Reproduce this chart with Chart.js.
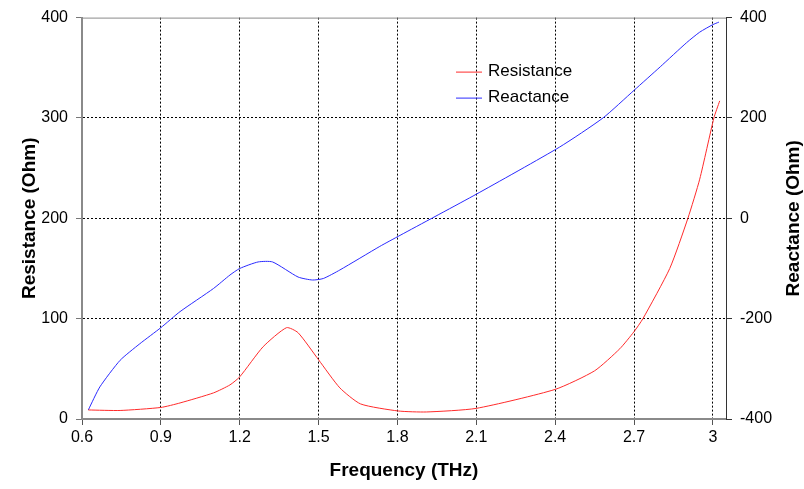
<!DOCTYPE html>
<html>
<head>
<meta charset="utf-8">
<script src="https://cdn.jsdelivr.net/npm/chart.js@4/dist/chart.umd.min.js"></script>
<style>
  html, body { margin: 0; padding: 0; background: #fff; }
  #wrap { width: 804px; height: 489px; }
</style>
</head>
<body>
<div id="wrap"><canvas id="myChart"></canvas></div>
<script>
// данные
const resFreq = [0.624, 0.745, 0.9, 0.973, 1.1, 1.163, 1.2, 1.289, 1.378, 1.422, 1.5, 1.581, 1.66, 1.803, 1.91, 2.1, 2.4, 2.55, 2.646, 2.7, 2.734, 2.836, 2.905, 2.95, 3.004, 3.026];
const resistance = [9, 8.5, 11.5, 16, 26, 34, 42, 72, 91, 86, 59, 31, 15, 8, 7, 10.6, 29.5, 48, 70, 87, 100, 150, 200, 239, 300, 317];

const reaFreq = [0.624, 0.668, 0.745, 0.82, 0.9, 0.973, 1.1, 1.163, 1.2, 1.27, 1.325, 1.422, 1.477, 1.518, 1.581, 1.733, 1.81, 2.1, 2.417, 2.582, 2.7, 2.8, 2.9, 2.95, 3.0, 3.023];
const reactance = [-382, -336, -283, -250, -218, -186, -140, -113, -100, -87, -87, -117, -123, -120, -103, -56, -34, 48, 142, 200, 255, 302, 350, 371, 386, 391];

const freqTicks = [0.6, 0.9, 1.2, 1.5, 1.8, 2.1, 2.4, 2.7, 3.0];
const resTicks = [0, 100, 200, 300, 400];
const reaTicks = [-400, -200, 0, 200, 400];

const FONT = 'Liberation Sans, Arial, sans-serif';
const rightTitle = 'Reactance (Ohm)';

// легенда внутри области графика, верхняя рамка и правый заголовок
const frameLegend = {
  id: 'frameLegend',
  afterDatasetsDraw(chart) {
    const c = chart.ctx;
    const a = chart.chartArea;
    c.save();
    c.strokeStyle = '#8a8a8a';
    c.lineWidth = 1;
    c.beginPath();
    c.moveTo(a.left, a.top + 0.5);
    c.lineTo(a.right, a.top + 0.5);
    c.stroke();

    c.font = '17px ' + FONT;
    c.textBaseline = 'middle';
    c.fillStyle = '#000';
    chart.data.datasets.forEach((ds, i) => {
      const y = a.top + 54 + i * 26;
      const x = a.left + 374;
      c.strokeStyle = ds.borderColor;
      c.beginPath();
      c.moveTo(x, y + 0.5);
      c.lineTo(x + 26, y + 0.5);
      c.stroke();
      c.fillText(ds.label, x + 32, y);
    });

    // заголовок правой оси читается снизу вверх, как у левой
    c.translate(chart.width - 10, (a.top + a.bottom) / 2);
    c.rotate(-Math.PI / 2);
    c.font = 'bold 19px ' + FONT;
    c.textAlign = 'center';
    c.fillText(rightTitle, 0, 0);
    c.restore();
  }
};

const ctx = document.getElementById('myChart').getContext('2d');
const myChart = new Chart(ctx, {
  type: 'line',
  data: {
    datasets: [{
      label: 'Resistance',
      data: resFreq.map((f, i) => ({x: f, y: resistance[i]})),
      borderColor: '#ff2a2a',
      borderWidth: 1,
      pointRadius: 0,
      tension: 0.2,
      yAxisID: 'y'
    }, {
      label: 'Reactance',
      data: reaFreq.map((f, i) => ({x: f, y: reactance[i]})),
      borderColor: '#2a2aff',
      borderWidth: 1,
      pointRadius: 0,
      tension: 0.2,
      yAxisID: 'y1'
    }]
  },
  options: {
    responsive: true,
    maintainAspectRatio: false,
    animation: false,
    layout: { padding: { top: 17, left: 0, right: 0, bottom: 0 } },
    plugins: { legend: { display: false }, tooltip: { enabled: false } },
    scales: {
      x: {
        type: 'linear',
        min: 0.6,
        max: 3.05,
        afterBuildTicks: s => { s.ticks = freqTicks.map(v => ({value: v})); },
        afterFit: s => { s.height = 70; },
        ticks: {
          color: '#000',
          font: { size: 16, family: FONT },
          padding: 3,
          maxRotation: 0,
          callback: v => String(Math.round(v * 10) / 10)
        },
        grid: {
          color: c => (c.index === 0 ? 'rgba(0,0,0,0)' : '#000'),
          tickColor: '#555',
          tickLength: 6,
          lineWidth: 1
        },
        border: { color: '#8a8a8a', width: 2, dash: [2, 2] },
        title: {
          display: true,
          text: 'Frequency (THz)',
          color: '#000',
          font: { size: 19, weight: 'bold', family: FONT, lineHeight: 1 },
          padding: { top: 0, bottom: 9 }
        }
      },
      y: {
        position: 'left',
        min: 0,
        max: 400,
        afterBuildTicks: s => { s.ticks = resTicks.map(v => ({value: v})); },
        afterFit: s => { s.width = 82; },
        ticks: {
          color: '#000',
          font: { size: 16, family: FONT },
          padding: 8
        },
        grid: {
          color: c => (c.tick.value === 0 || c.tick.value === 400 ? 'rgba(0,0,0,0)' : '#000'),
          tickColor: '#777',
          tickLength: 6,
          lineWidth: 1
        },
        border: { color: '#8a8a8a', width: 2, dash: [2, 2] },
        title: {
          display: true,
          text: 'Resistance (Ohm)',
          color: '#000',
          font: { size: 19, weight: 'bold', family: FONT, lineHeight: 1 },
          padding: { top: 20, bottom: 0 }
        }
      },
      y1: {
        position: 'right',
        min: -400,
        max: 400,
        afterBuildTicks: s => { s.ticks = reaTicks.map(v => ({value: v})); },
        afterFit: s => { s.width = 78; },
        ticks: {
          color: '#000',
          font: { size: 16, family: FONT },
          padding: 8
        },
        grid: {
          drawOnChartArea: false,
          tickColor: '#333',
          tickLength: 6
        },
        border: { color: '#333', width: 1 },
        title: { display: false }
      }
    }
  },
  plugins: [frameLegend]
});
</script>
</body>
</html>
